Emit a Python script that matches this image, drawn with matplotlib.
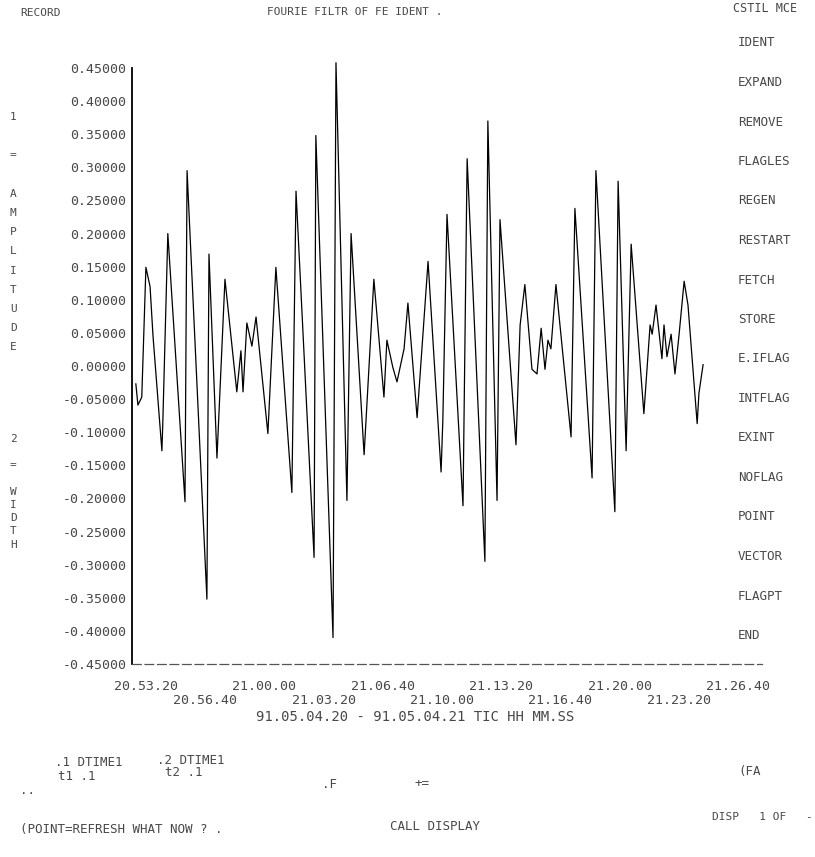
import matplotlib
matplotlib.use("Agg")
import matplotlib.pyplot as plt
import matplotlib.transforms as mtransforms
import numpy as np

# time in seconds after 20:53:20, value of the trace
t_sec = [-34, -27, -14, 0, 14, 24, 54, 57, 74, 132, 139, 206, 213, 240, 267,
         307, 321, 328, 341, 358, 372, 412, 439, 493, 507, 568, 574, 632, 642,
         679, 693, 737, 770, 804, 814, 834, 848, 872, 885, 916, 953, 997, 1003,
         1017, 1071, 1085, 1145, 1155, 1186, 1196, 1250, 1264, 1280, 1304, 1321,
         1335, 1348, 1358, 1368, 1385, 1436, 1449, 1507, 1520, 1584, 1595, 1622,
         1639, 1682, 1703, 1710, 1723, 1743, 1750, 1760, 1774, 1787, 1801, 1818,
         1831, 1862, 1868, 1882]
amp = [-0.027, -0.059, -0.047, 0.149, 0.120, 0.045, -0.128, -0.087, 0.200,
       -0.205, 0.295, -0.352, 0.169, -0.139, 0.131, -0.039, 0.023, -0.039,
       0.065, 0.030, 0.074, -0.102, 0.149, -0.191, 0.264, -0.289, 0.348, -0.410,
       0.458, -0.203, 0.200, -0.134, 0.131, -0.047, 0.039, -0.002, -0.024, 0.026,
       0.095, -0.078, 0.158, -0.160, -0.081, 0.229, -0.211, 0.313, -0.295, 0.370,
       -0.203, 0.221, -0.119, 0.062, 0.123, -0.005, -0.012, 0.057, -0.005, 0.039,
       0.026, 0.123, -0.107, 0.238, -0.169, 0.295, -0.220, 0.279, -0.128, 0.184,
       -0.072, 0.062, 0.048, 0.092, 0.011, 0.062, 0.014, 0.048, -0.012, 0.048,
       0.128, 0.092, -0.087, -0.041, 0.002]

x_ticks = [0, 200, 400, 600, 800, 1000, 1200, 1400, 1600, 1800, 2000]
x_labels = ["20.53.20", "20.56.40", "21.00.00", "21.03.20", "21.06.40", "21.10.00",
            "21.13.20", "21.16.40", "21.20.00", "21.23.20", "21.26.40"]
y_ticks = [0.45, 0.40, 0.35, 0.30, 0.25, 0.20, 0.15, 0.10, 0.05, 0.0,
           -0.05, -0.10, -0.15, -0.20, -0.25, -0.30, -0.35, -0.40, -0.45]

menu = ["IDENT", "EXPAND", "REMOVE", "FLAGLES", "REGEN", "RESTART", "FETCH",
        "STORE", "E.IFLAG", "INTFLAG", "EXINT", "NOFLAG", "POINT", "VECTOR",
        "FLAGPT", "END"]

TXT = "#484848"
MONO = "DejaVu Sans Mono"
W, H = 815, 857

fig = plt.figure(figsize=(8.15, 8.57), dpi=100)
ax = fig.add_axes([132 / W, 1 - 664 / H, 630 / W, 596 / H])

ax.plot(t_sec, amp, color="black", lw=0.9, clip_on=False)

ax.set_xlim(-47, 2081)
ax.set_ylim(-0.45, 0.45)

ax.spines["top"].set_visible(False)
ax.spines["right"].set_visible(False)
ax.spines["left"].set_linewidth(1.3)
ax.spines["bottom"].set_linewidth(0.9)
ax.spines["bottom"].set_color("#555555")
ax.spines["bottom"].set_linestyle((0, (7, 3)))

ax.set_yticks(y_ticks)
ax.set_yticklabels(["%.5f" % v for v in y_ticks], family=MONO, fontsize=9.5, color=TXT)
ax.set_xticks(x_ticks)
ax.set_xticklabels([])
ax.tick_params(axis="both", length=0)
ax.tick_params(axis="y", pad=4)

# time labels in two staggered rows under the axis
trans = mtransforms.blended_transform_factory(ax.transData, fig.transFigure)
for i, (tk, lab) in enumerate(zip(x_ticks, x_labels)):
    row_y = 686 if i % 2 == 0 else 700
    ax.text(tk, 1 - row_y / H, lab, transform=trans, ha="center", va="center",
            family=MONO, fontsize=9.5, color=TXT)


def ftext(x, y, s, **kw):
    opts = dict(family=MONO, fontsize=9, color=TXT, va="center")
    opts.update(kw)
    fig.text(x / W, 1 - y / H, s, **opts)


# caption under the time axis
ftext(415, 717, "91.05.04.20 - 91.05.04.21 TIC HH MM.SS", ha="center", fontsize=10)

# header line
ftext(20, 13, "RECORD", fontsize=8)
ftext(355, 12, "FOURIE FILTR OF FE IDENT .", ha="center", fontsize=8)
ftext(733, 8, "CSTIL MCE", fontsize=8.5)

# menu on the right
for i, item in enumerate(menu):
    ftext(738, 43 + i * 39.5, item, fontsize=9)

# stacked axis titles on the left
ftext(10, 112, "\n".join("1 = AMPLITUDE"), va="top", fontsize=8, linespacing=2.15)
ftext(10, 434, "\n".join("2 = WIDTH"), va="top", fontsize=8, linespacing=1.4)

# status area at the bottom
ftext(55, 762, ".1 DTIME1")
ftext(157, 760, ".2 DTIME1")
ftext(58, 776, "t1 .1")
ftext(165, 773, "t2 .1")
ftext(20, 790, "..")
ftext(322, 785, ".F")
ftext(415, 784, "+=")
ftext(738, 772, "(FA")
ftext(20, 830, "(POINT=REFRESH WHAT NOW ? .")
ftext(390, 826, "CALL DISPLAY")
ftext(712, 817, "DISP   1 OF", fontsize=8)
ftext(805, 817, "-", fontsize=8)

fig.savefig("out.png", dpi=100, facecolor="white")
